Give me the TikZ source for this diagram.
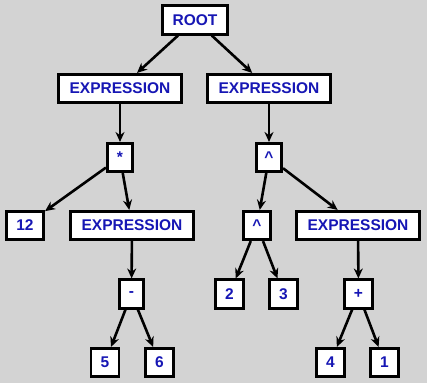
\documentclass[tikz,border=0pt]{standalone}
\usepackage{fontspec}
\setmainfont{Liberation Sans}
\usetikzlibrary{arrows.meta}
\definecolor{bgc}{RGB}{211,211,211}
\definecolor{txt}{RGB}{22,22,180}
\begin{document}
\begin{tikzpicture}[x=1pt,y=-1pt,
  box/.style={draw=black,fill=white,line width=2.6pt,inner sep=0pt,
    minimum height=28.5pt,text=txt,font=\fontsize{15.5}{18}\selectfont\bfseries},
  wbox/.style={box,minimum width=123.5pt},
  sbox/.style={box,minimum width=28pt},
  edge/.style={draw=black,line width=2.6pt,-{Stealth[length=10pt,width=9pt]}}]
\fill[bgc] (0,0) rectangle (427,383);
\useasboundingbox (0,0) rectangle (427,383);
\node[box,minimum width=64.5pt] (root) at (195,20) {ROOT};
\node[wbox] (e1) at (120,88.5) {EXPRESSION};
\node[wbox] (e2) at (269,88.5) {EXPRESSION};
\node[sbox,minimum width=25.5pt] (mul) at (120,157.5) {*};
\node[sbox,minimum width=25.5pt] (pow1) at (269,157.5) {\^{}};
\node[sbox,minimum width=37.5pt] (n12) at (25,225.5) {12};
\node[wbox] (e3) at (132,225.5) {EXPRESSION};
\node[sbox,minimum width=27.5pt] (pow2) at (257,225.5) {\^{}};
\node[wbox] (e4) at (358,225.5) {EXPRESSION};
\node[sbox,minimum width=24.5pt] (minus) at (131.5,294) {-};
\node[sbox] (n2) at (229.5,294) {2};
\node[sbox] (n3) at (283.5,294) {3};
\node[sbox] (plus) at (358.5,294) {+};
\node[sbox] (n5) at (105,362.5) {5};
\node[sbox] (n6) at (159.5,362.5) {6};
\node[sbox] (n4) at (330.5,362.5) {4};
\node[sbox] (n1) at (384.5,362.5) {1};
\draw[edge] (root) -- (e1);
\draw[edge] (root) -- (e2);
\draw[edge] (e1) -- (mul);
\draw[edge] (e2) -- (pow1);
\draw[edge] (mul) -- (n12);
\draw[edge] (mul) -- (e3);
\draw[edge] (pow1) -- (pow2);
\draw[edge] (pow1) -- (e4);
\draw[edge] (e3) -- (minus);
\draw[edge] (pow2) -- (n2);
\draw[edge] (pow2) -- (n3);
\draw[edge] (e4) -- (plus);
\draw[edge] (minus) -- (n5);
\draw[edge] (minus) -- (n6);
\draw[edge] (plus) -- (n4);
\draw[edge] (plus) -- (n1);
\end{tikzpicture}
\end{document}
